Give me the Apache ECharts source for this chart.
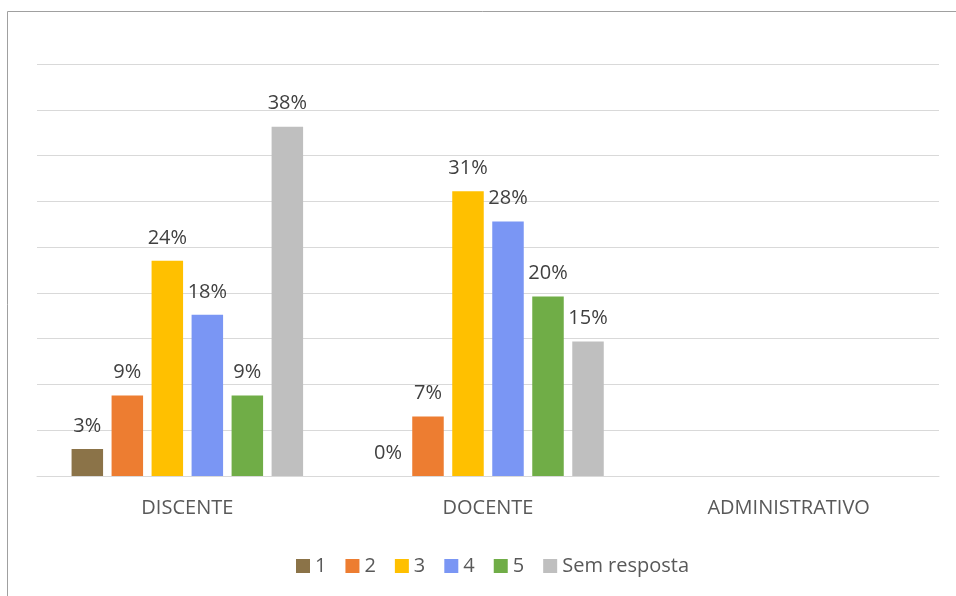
<!DOCTYPE html>
<html>
<head>
<meta charset="utf-8">
<script src="https://cdn.jsdelivr.net/npm/echarts@6/dist/echarts.min.js"></script>
<style>
	html, body { margin: 0; padding: 0; background: #fff; }
	#box { width: 956px; height: 596px; }
</style>
</head>
<body>
<div id="box"></div>
<script>
	// categorias e séries
	var categories = ['DISCENTE', 'DOCENTE', 'ADMINISTRATIVO'];
	var seriesNames = ['1', '2', '3', '4', '5', 'Sem resposta'];
	var valores1 = [2.95, 0, '-'];
	var valores2 = [8.8, 6.5, '-'];
	var valores3 = [23.5, 31.1, '-'];
	var valores4 = [17.6, 27.8, '-'];
	var valores5 = [8.8, 19.6, '-'];
	var valoresSem = [38.15, 14.7, '-'];

	var cores = ['#8B7348', '#ED7D31', '#FFC000', '#7A96F4', '#70AD47', '#BFBFBF'];
	var fonte = 'Open Sans';

	var myChart = echarts.init(document.getElementById('box'));

	var labelOption = {
		show: true,
		position: 'top',
		distance: 13,
		color: '#404040',
		fontSize: 20,
		fontFamily: fonte,
		formatter: function (p) {
			return Math.round(p.value) + '%';
		}
	};

	var dados = [valores1, valores2, valores3, valores4, valores5, valoresSem];
	var series = [];
	for (var i = 0; i < seriesNames.length; i++) {
		series.push({
			name: seriesNames[i],
			type: 'bar',
			barWidth: 31.5,
			barGap: '27%',
			label: labelOption,
			itemStyle: { color: cores[i] },
			data: dados[i]
		});
	}

	var option = {
		animation: false,
		color: cores,
		grid: { left: 37, right: 17, top: 64, bottom: 120 },
		legend: {
			data: seriesNames,
			bottom: 15,
			left: 291,
			itemWidth: 14,
			itemHeight: 14,
			itemGap: 19,
			icon: 'rect',
			textStyle: { color: '#595959', fontSize: 20, fontFamily: fonte }
		},
		xAxis: {
			type: 'category',
			data: categories,
			axisTick: { show: false },
			axisLine: { lineStyle: { color: '#D9D9D9', width: 1 } },
			axisLabel: { color: '#595959', fontSize: 20, fontFamily: fonte, margin: 22 }
		},
		yAxis: {
			type: 'value',
			min: 0,
			max: 45,
			interval: 5,
			axisLabel: { show: false },
			axisLine: { show: false },
			axisTick: { show: false },
			splitLine: { lineStyle: { color: '#D9D9D9', width: 1 } }
		},
		graphic: [{
			type: 'rect',
			shape: { x: 7.5, y: 11.5, width: 1000, height: 1000 },
			style: { fill: 'none', stroke: '#A0A0A0', lineWidth: 1 },
			silent: true
		}],
		series: series
	};

	myChart.setOption(option);
</script>
</body>
</html>
